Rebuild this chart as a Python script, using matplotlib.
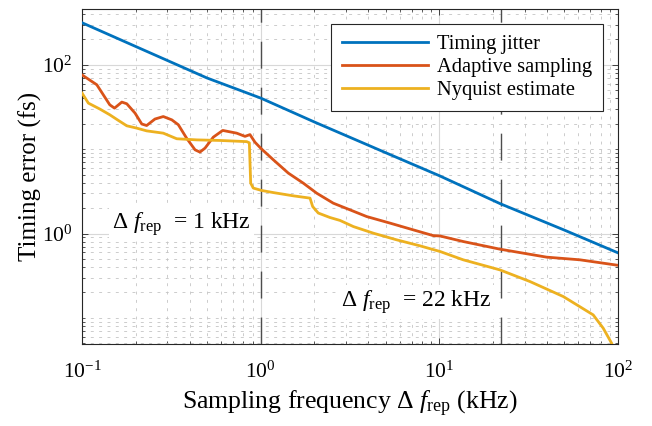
import matplotlib
matplotlib.use("Agg")
import matplotlib.pyplot as plt
from matplotlib.ticker import LogLocator, FixedLocator, NullFormatter
import numpy as np

# ---- MATLAB-ish palette ----
BLUE = "#0072BD"
ORANGE = "#D95319"
YELLOW = "#EDB120"
MARKER_GRAY = "#4d4d4d"

plt.rcParams.update({
    "font.family": ["Liberation Serif", "DejaVu Serif"],
    "mathtext.fontset": "custom",
    "mathtext.rm": "Liberation Serif",
    "mathtext.it": "Liberation Serif:italic",
    "mathtext.bf": "Liberation Serif:bold",
    "axes.linewidth": 0.8,
    "axes.unicode_minus": False,
})

# timing jitter (fs) vs sampling frequency (kHz)
jitter_f = [0.1, 0.2, 0.5, 1, 2, 5, 10, 22, 50, 100]
jitter_v = [316, 165, 70, 40.4, 21.0, 9.1, 4.85, 2.25, 1.10, 0.59]

# adaptive sampling
adapt_f = [0.1, 0.121, 0.143, 0.152, 0.167, 0.178, 0.198, 0.216, 0.230, 0.256,
           0.285, 0.318, 0.346, 0.385, 0.429, 0.457, 0.488, 0.543, 0.613, 0.734,
           0.817, 0.871, 0.929, 1.004, 1.177, 1.427, 1.731, 2.058, 2.549, 3.16,
           3.92, 5.29, 7.14, 9.24, 10.1, 13.6, 21.8, 29.5, 39.8, 61.2, 100]
adapt_v = [76, 58.1, 33.6, 30.7, 36.2, 34.6, 26.8, 19.9, 19.1, 22.8,
           24.4, 22.3, 19.5, 13.5, 9.84, 9.24, 10.3, 13.9, 16.7, 15.5,
           14.2, 14.9, 12.1, 10.2, 7.49, 5.21, 3.96, 3.01, 2.29, 1.91,
           1.59, 1.33, 1.106, 0.945, 0.935, 0.804, 0.653, 0.585, 0.525, 0.488, 0.42]

# Nyquist estimate
nyq_f = [0.1, 0.1085, 0.126, 0.143, 0.160, 0.178, 0.202, 0.230, 0.285, 0.339,
         0.439, 0.592, 0.835, 0.864, 0.879, 0.909, 1.013, 1.177, 1.522, 1.888,
         1.954, 2.10, 2.44, 2.78, 3.30, 4.27, 5.77, 7.79, 10.1, 13.6,
         21.8, 32.1, 49.4, 72.6, 82.6, 92.1, 100]
nyq_v = [46.3, 35.2, 29.9, 25.6, 21.9, 18.95, 17.8, 16.5, 15.5, 13.3,
         12.9, 12.7, 12.3, 11.9, 3.96, 3.46, 3.24, 3.06, 2.80, 2.63,
         2.09, 1.75, 1.55, 1.43, 1.21, 1.01, 0.842, 0.715, 0.612, 0.488,
         0.371, 0.270, 0.179, 0.1085, 0.0755, 0.050, 0.03]

marker_f = [1, 22]
xlim = (0.1, 100)
ylim = (0.049, 460)

fig = plt.figure(figsize=(6.52, 4.26), dpi=100)
ax = fig.add_axes([0.1258, 0.1925, 0.8221, 0.7864])
ax.set_xscale("log")
ax.set_yscale("log")
ax.set_xlim(*xlim)
ax.set_ylim(*ylim)

# grid (major solid light, minor short dashes)
ax.yaxis.set_major_locator(FixedLocator([1, 100]))
ax.yaxis.set_minor_locator(LogLocator(base=10, subs=np.arange(1, 10), numticks=20))
ax.yaxis.set_minor_formatter(NullFormatter())
ax.xaxis.set_major_locator(LogLocator(base=10, numticks=10))
ax.xaxis.set_minor_locator(LogLocator(base=10, subs=np.arange(2, 10), numticks=20))
ax.xaxis.set_minor_formatter(NullFormatter())
ax.grid(which="major", color="#d8d8d8", linewidth=0.8, linestyle="-", zorder=0)
ax.grid(which="minor", color="#c4c4c4", linewidth=0.6, linestyle=(0, (3.5, 6.5)), zorder=0)
ax.set_axisbelow(True)

for f in marker_f:
    ax.plot([f, f], ylim, color=MARKER_GRAY, linewidth=1.0,
            dashes=(19.4, 13.7), zorder=1)

ax.plot(jitter_f, jitter_v, color=BLUE, linewidth=2.0, label="Timing jitter", zorder=3)
ax.plot(adapt_f, adapt_v, color=ORANGE, linewidth=2.0, label="Adaptive sampling", zorder=3)
ax.plot(nyq_f, nyq_v, color=YELLOW, linewidth=2.0, label="Nyquist estimate", zorder=3)

ax.tick_params(which="both", direction="in", top=True, right=True, labelsize=15.5,
               color="#262626")
ax.tick_params(which="major", length=4.5, width=0.6)
ax.tick_params(axis="x", which="major", pad=13)
ax.tick_params(axis="y", which="major", pad=7)
ax.tick_params(which="minor", length=2.5, width=0.5)
for s in ax.spines.values():
    s.set_color("#262626")

box = dict(boxstyle="square,pad=0.12", facecolor="white", edgecolor="none")
ax.text(0.147, 1.14, "\u0394 $f_{\\mathrm{rep}}$  = 1 kHz", fontsize=17,
        ha="left", va="baseline", bbox=box, zorder=2)
ax.text(2.80, 0.136, "\u0394 $f_{\\mathrm{rep}}$  = 22 kHz ", fontsize=17,
        ha="left", va="baseline", bbox=box, zorder=2)

ax.set_xlabel("Sampling frequency \u0394 $f_{\\mathrm{rep}}$ (kHz)", fontsize=18.5, labelpad=4)
ax.set_ylabel("Timing error (fs)", fontsize=18, labelpad=0)

leg = ax.legend(loc="upper right", fontsize=14.8, handlelength=4.2, handletextpad=0.45,
                labelspacing=0.18, borderaxespad=0.75, borderpad=0.5,
                fancybox=False, framealpha=1)
leg.get_frame().set_edgecolor("#262626")
leg.get_frame().set_linewidth(0.8)

fig.savefig("out.png", dpi=100)
